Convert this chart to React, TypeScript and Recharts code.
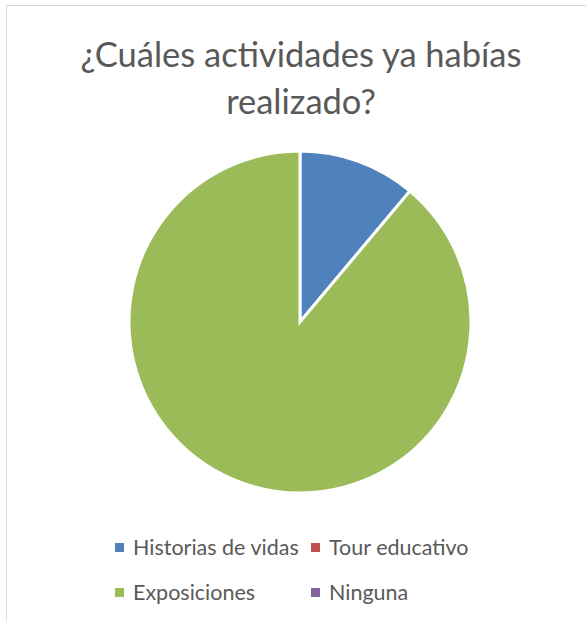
import { PieChart, Pie, Cell, Legend } from 'recharts';

const categories = ['Historias de vidas', 'Tour educativo', 'Exposiciones', 'Ninguna'];
const values = [1, 0, 8, 0];
const colors = ['#4F81BD', '#C0504D', '#9BBB59', '#8064A2'];

const data = categories.map((name, i) => ({ name, value: values[i] }));

const FONT = 'Lato, "Open Sans", sans-serif';

function LegendGrid() {
  return (
    <div
      style={{
        display: 'grid',
        gridTemplateColumns: '196px 180px',
        rowGap: 21,
        fontFamily: FONT,
        fontSize: 21.5,
        color: '#595959',
      }}
    >
      {categories.map((c, i) => (
        <div key={c} style={{ display: 'flex', alignItems: 'center', height: 24 }}>
          <span
            style={{
              display: 'inline-block',
              width: 9,
              height: 9,
              background: colors[i],
              marginRight: 9,
            }}
          />
          <span>{c}</span>
        </div>
      ))}
    </div>
  );
}

export default function App() {
  return (
    <div style={{ position: 'absolute', left: 0, top: 0, width: 586, height: 621, background: '#fff', overflow: 'hidden' }}>
      <div
        style={{
          position: 'absolute',
          left: 6,
          top: 5,
          width: 700,
          height: 700,
          borderTop: '1px solid #d9d9d9',
          borderLeft: '1px solid #d9d9d9',
        }}
      />
      <div
        style={{
          position: 'absolute',
          left: 0,
          top: 30,
          width: 602,
          textAlign: 'center',
          fontFamily: FONT,
          fontSize: 34.5,
          lineHeight: '47px',
          color: '#595959',
        }}
      >
        ¿Cuáles actividades ya habías
        <br />
        realizado?
      </div>
      <div style={{ position: 'absolute', left: 0, top: 0 }}>
        <PieChart width={586} height={621} margin={{ top: 0, right: 0, bottom: 0, left: 0 }}>
          <Pie
            data={data}
            dataKey="value"
            nameKey="name"
            cx={300}
            cy={322}
            outerRadius={171}
            startAngle={90}
            endAngle={-270}
            stroke="#fff"
            strokeWidth={3}
            isAnimationActive={false}
          >
            {data.map((d, i) => (
              <Cell key={d.name} fill={colors[i]} />
            ))}
          </Pie>
          <Legend
            content={() => <LegendGrid />}
            wrapperStyle={{ position: 'absolute', left: 115, top: 535, width: 420 }}
          />
        </PieChart>
      </div>
    </div>
  );
}
